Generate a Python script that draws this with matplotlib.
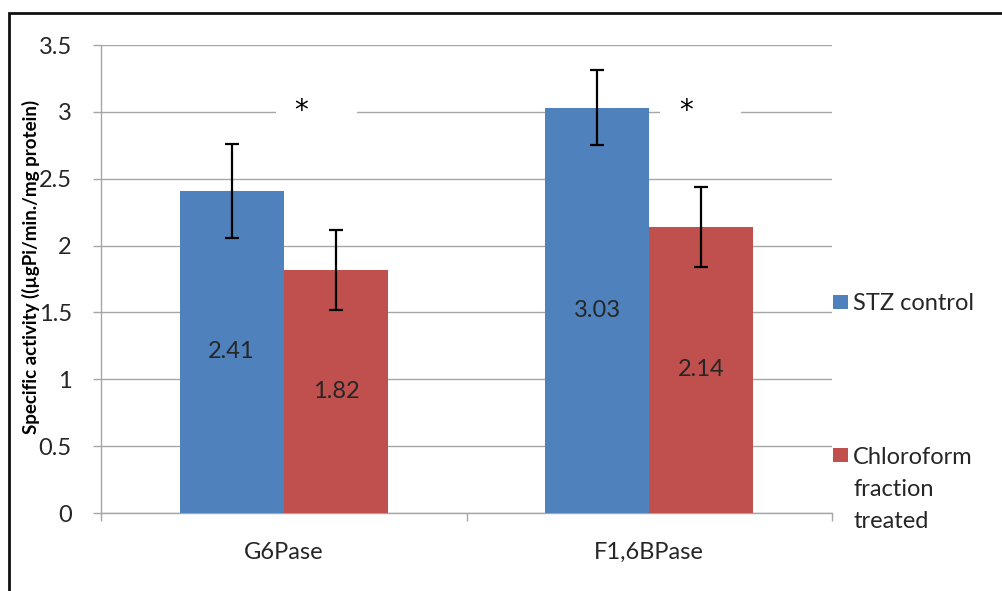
import matplotlib
matplotlib.use("Agg")
import matplotlib.pyplot as plt
from matplotlib.patches import Rectangle
import numpy as np

categories = ["G6Pase", "F1,6BPase"]
series_names = ["STZ control", "Chloroform\nfraction\ntreated"]
stz_values = [2.41, 3.03]
chl_values = [1.82, 2.14]
stz_err = [0.35, 0.28]
chl_err = [0.30, 0.30]
yticks = [0, 0.5, 1, 1.5, 2, 2.5, 3, 3.5]
ytick_labels = ["0", "0.5", "1", "1.5", "2", "2.5", "3", "3.5"]
ylabel = "Specific activity ((\u00b5gPi/min./mg protein)"
star_x = [0.047, 1.101]
star_y = [3.03, 3.03]

blue = "#4F81BD"
red = "#C0504D"
grid_c = "#A6A6A6"
txt_c = "#262626"
font = ["Lato", "DejaVu Sans"]
plt.rcParams["font.family"] = font
fs = 17

fig = plt.figure(figsize=(10.02, 5.91), dpi=100)
ax = fig.add_axes([101/1002, 1-513/591, (832-101)/1002, (513-45)/591])

x = np.arange(len(categories))
w = 0.285
ax.bar(x - w/2, stz_values, w, color=blue, zorder=3)
ax.bar(x + w/2, chl_values, w, color=red, zorder=3)
ax.errorbar(x - w/2, stz_values, yerr=stz_err, fmt="none", ecolor="black",
            elinewidth=1.6, capsize=4.7, capthick=1.6, zorder=4)
ax.errorbar(x + w/2, chl_values, yerr=chl_err, fmt="none", ecolor="black",
            elinewidth=1.6, capsize=4.7, capthick=1.6, zorder=4)

for xi, v in zip(x - w/2, stz_values):
    ax.text(xi, v/2, f"{v:.2f}", ha="center", va="center", fontsize=fs, color=txt_c, zorder=5)
for xi, v in zip(x + w/2, chl_values):
    ax.text(xi, v/2, f"{v:.2f}", ha="center", va="center", fontsize=fs, color=txt_c, zorder=5)

# significance stars with white gap in gridline
gaps = [(-0.022, 0.20), (1.03, 1.252)]
for (g0, g1), sx, sy in zip(gaps, star_x, star_y):
    ax.add_patch(Rectangle((g0, 2.96), g1-g0, 0.08, facecolor="white", edgecolor="none", zorder=2))
    ax.text(sx, sy, "*", ha="center", va="center_baseline", fontsize=20, color="black",
            family="DejaVu Sans", zorder=5)

ax.set_xlim(-0.5, 1.5)
ax.set_ylim(0, 3.5)
ax.set_yticks(yticks)
ax.set_yticklabels(ytick_labels)
ax.set_xticks([-0.5, 0.5, 1.5])
ax.set_xticklabels([])
ax.set_xticks(x, minor=True)
ax.set_xticklabels(categories, minor=True)
ax.tick_params(axis="x", which="minor", length=0, pad=21, labelsize=fs, labelcolor=txt_c)
ax.tick_params(axis="x", which="major", length=6, color=grid_c, width=1)
ax.tick_params(axis="y", length=6, color=grid_c, width=1, labelsize=fs, labelcolor=txt_c, pad=15)
ax.yaxis.grid(True, color=grid_c, linewidth=1, zorder=0)
ax.set_axisbelow(True)
for s in ["top", "right"]:
    ax.spines[s].set_visible(False)
for s in ["left", "bottom"]:
    ax.spines[s].set_color(grid_c)
    ax.spines[s].set_linewidth(1)

fig.text(31/1002, 1-267/591, ylabel, rotation=90, ha="center", va="center",
         fontsize=13.5, fontweight="bold", color="black")

# legend
leg_items = [(blue, series_names[0], 302), (red, series_names[1], 455)]
for col, name, yc in leg_items:
    fig.patches.append(Rectangle((833/1002, 1-(yc+7)/591), 15/1002, 14/591,
                                 transform=fig.transFigure, facecolor=col, edgecolor="none"))
    for i, line in enumerate(name.split("\n")):
        fig.text(853/1002, 1-(yc + i*32.5)/591, line, ha="left", va="center_baseline",
                 fontsize=fs, color=txt_c)

# outer border
fig.patches.append(Rectangle((9/1002, -0.2), 1.5, 1.2 - 13/591, transform=fig.transFigure,
                             facecolor="none", edgecolor="#111111", linewidth=2, clip_on=False))

fig.savefig("out.png", dpi=100)
